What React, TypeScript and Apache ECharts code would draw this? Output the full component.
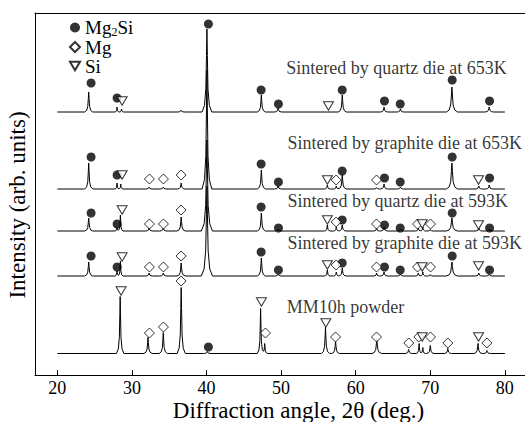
import React, { useEffect, useRef } from "react";
import * as echarts from "echarts";

// ---- Data (2θ in degrees, intensity in arbitrary units, stacked with offsets) ----
const xTicks = [20, 30, 40, 50, 60, 70, 80];
const scanStart = 20;
const scanEnd = 80;
const xTitle = "Diffraction angle, 2θ (deg.)";
const yTitle = "Intensity (arb. units)";

// baselines (arb. units) of each stacked pattern
const baseQuartz653 = 263;
const baseGraphite653 = 186;
const baseQuartz593 = 144;
const baseGraphite593 = 99;
const basePowder = 21.5;

// peaks: [2θ, height, half base width]
const peaksQuartz653 = [
  [24.2, 20, 0.55], [28.0, 5, 0.3], [28.6, 3, 0.3], [36.6, 2, 0.5], [40.05, 83, 0.65],
  [47.35, 17, 0.55], [49.6, 4, 0.5], [58.2, 17, 0.55], [63.8, 5, 0.5], [66.0, 3, 0.5],
  [72.9, 25, 0.75], [77.9, 5, 0.6],
];
const peaksGraphite653 = [
  [24.2, 26, 0.55], [28.0, 6, 0.3], [28.5, 5, 0.3], [32.3, 2, 0.5], [34.2, 2, 0.5],
  [36.6, 6, 0.5], [40.05, 119, 0.65], [47.35, 19, 0.55], [49.6, 3, 0.5], [56.2, 4, 0.4],
  [57.4, 3, 0.4], [58.2, 14, 0.55], [62.8, 2, 0.4], [63.8, 5, 0.5], [66.0, 2, 0.5],
  [72.9, 26, 0.75], [76.5, 3, 0.5], [77.9, 4, 0.5],
];
const peaksQuartz593 = [
  [24.2, 13, 0.55], [28.0, 4, 0.3], [28.45, 16, 0.35], [32.3, 3, 0.5], [34.2, 3, 0.5],
  [36.6, 14, 0.55], [40.05, 91, 0.75], [47.35, 18, 0.55], [49.6, 2, 0.5], [56.2, 6, 0.4],
  [57.4, 4, 0.4], [58.2, 6, 0.5], [62.8, 3, 0.4], [63.8, 4, 0.5], [66.0, 2, 0.5],
  [68.4, 3, 0.4], [69.0, 4, 0.4], [70.0, 2, 0.4], [72.9, 13, 0.75], [76.5, 3, 0.5],
  [77.9, 2, 0.5],
];
const peaksGraphite593 = [
  [24.2, 14, 0.55], [28.0, 5, 0.3], [28.45, 15, 0.35], [32.3, 3, 0.5], [34.2, 3, 0.5],
  [36.6, 13, 0.55], [40.05, 90, 0.75], [47.35, 18, 0.55], [49.6, 2, 0.5], [56.2, 6, 0.4],
  [57.4, 4, 0.4], [58.2, 8, 0.5], [62.8, 3, 0.4], [63.8, 4, 0.5], [66.0, 2, 0.5],
  [68.4, 3, 0.4], [69.0, 4, 0.4], [70.0, 2, 0.4], [72.9, 14, 0.75], [76.5, 3, 0.5],
  [77.9, 2, 0.5],
];
const peaksPowder = [
  [28.42, 57, 0.5], [32.15, 16, 0.55], [34.2, 21, 0.55], [36.6, 66, 0.55], [40.1, 2, 0.5],
  [47.25, 45, 0.45], [47.8, 10, 0.4], [55.95, 26, 0.55], [57.3, 12, 0.55], [62.83, 14, 0.65],
  [67.1, 4, 0.5], [68.5, 10, 0.4], [69.0, 6, 0.35], [70.0, 8, 0.5], [72.35, 5, 0.5],
  [76.4, 10, 0.55], [77.6, 3, 0.5],
];

// phase markers: [2θ, intensity]
const mg2siMarks = [
  [24.52, 292], [28.01, 277], [40.25, 351], [47.32, 285], [49.64, 271], [58.19, 285],
  [63.86, 274], [65.97, 271], [72.94, 295], [77.95, 274],
  [24.52, 218], [28.01, 200], [47.32, 211], [49.64, 193], [58.19, 204], [63.86, 197],
  [65.97, 193], [72.94, 218], [77.95, 197],
  [24.52, 162], [28.01, 151], [47.32, 168], [49.64, 147], [58.19, 155], [63.86, 150],
  [65.97, 147], [72.94, 162], [77.95, 147],
  [24.52, 119], [28.01, 108], [47.32, 123], [49.64, 105], [58.19, 112], [63.86, 108],
  [65.97, 105], [72.94, 119], [77.95, 105],
  [40.25, 28],
];
const mgMarks = [
  [32.34, 196], [34.22, 196], [36.59, 200], [57.38, 195], [62.79, 195],
  [32.34, 151], [34.22, 151], [36.59, 165], [57.38, 153], [62.79, 151], [68.29, 151], [70.03, 151],
  [32.34, 108], [34.22, 108], [36.59, 119], [57.38, 110], [62.79, 108], [68.29, 108], [70.03, 108],
  [32.34, 42], [34.22, 48], [36.59, 94], [47.9, 42], [57.3, 38], [62.79, 38], [67.12, 32],
  [68.46, 38], [70.03, 38], [72.35, 32], [77.59, 32],
];
const siMarks = [
  [28.68, 274], [56.35, 269],
  [28.68, 200], [56.2, 195], [76.47, 195],
  [28.68, 165], [56.2, 155], [68.92, 151], [76.47, 150],
  [28.68, 118], [56.2, 110], [68.92, 108], [76.47, 109],
  [28.54, 84], [47.36, 73], [56.0, 52], [68.92, 38], [76.47, 38],
];

const sampleLabels = [
  "Sintered by quartz die at 653K",
  "Sintered by graphite die at 653K",
  "Sintered by quartz die at 593K",
  "Sintered by graphite die at 593K",
  "MM10h powder",
];
const sampleLabelAnchors = [
  [50.7, 307], [50.85, 232], [50.85, 174.3], [50.85, 132], [50.75, 68.3],
];

// normalized peak outline (offset in half-base widths, fraction of height)
const PROFILE = [
  [-1, 0], [-0.5, 0.08], [-0.22, 0.28], [-0.09, 0.68], [0, 1],
  [0.09, 0.68], [0.22, 0.28], [0.5, 0.08], [1, 0],
];

function profileAt(t: number): number {
  if (t <= PROFILE[0][0] || t >= PROFILE[PROFILE.length - 1][0]) return 0;
  for (let i = 0; i < PROFILE.length - 1; i++) {
    const [x0, y0] = PROFILE[i];
    const [x1, y1] = PROFILE[i + 1];
    if (t >= x0 && t <= x1) return y0 + ((t - x0) / (x1 - x0)) * (y1 - y0);
  }
  return 0;
}

function buildPattern(base: number, peaks: number[][]): number[][] {
  const xs = new Set<number>([scanStart, scanEnd]);
  peaks.forEach(([p, , w]) => {
    PROFILE.forEach(([dx]) => {
      const x = +(p + dx * w).toFixed(4);
      if (x > scanStart && x < scanEnd) xs.add(x);
    });
  });
  const sorted = Array.from(xs).sort((a, b) => a - b);
  return sorted.map((x) => {
    let y = base;
    peaks.forEach(([p, h, w]) => {
      y += h * profileAt((x - p) / w);
    });
    return [x, y];
  });
}

const FONT = '"Liberation Serif", "Times New Roman", serif';
const TRI_DOWN = "path://M0,0 L10,0 L5,8.5 Z";

export default function App() {
  const ref = useRef<HTMLDivElement>(null);

  useEffect(() => {
    document.body.style.margin = "0";
    if (!ref.current) return;
    const chart = echarts.init(ref.current, null, { renderer: "svg" });

    const patterns = [
      [baseQuartz653, peaksQuartz653],
      [baseGraphite653, peaksGraphite653],
      [baseQuartz593, peaksQuartz593],
      [baseGraphite593, peaksGraphite593],
      [basePowder, peaksPowder],
    ] as [number, number[][]][];

    const lineSeries = patterns.map(([b, pk], i) => ({
      name: "pattern" + i,
      type: "line",
      data: buildPattern(b, pk),
      symbol: "none",
      lineStyle: { color: "#000", width: 1 },
      z: 2,
      silent: true,
    }));

    const option: any = {
      animation: false,
      backgroundColor: "#fff",
      textStyle: { fontFamily: FONT },
      grid: { left: 35, right: 0, top: 13, bottom: 47 },
      graphic: [
        {
          type: "text",
          x: 298.5,
          y: 410,
          style: {
            text: xTitle,
            fontFamily: FONT,
            fontSize: 23,
            fill: "#000",
            align: "center",
            verticalAlign: "middle",
          },
        },
        {
          type: "text",
          x: 17,
          y: 205,
          rotation: Math.PI / 2,
          style: {
            text: yTitle,
            fontFamily: FONT,
            fontSize: 23,
            fill: "#000",
            align: "center",
            verticalAlign: "middle",
          },
        },
      ],
      legend: {
        data: ["Mg2Si", "Mg", "Si"],
        orient: "vertical",
        left: 64,
        top: 13,
        itemWidth: 10,
        itemHeight: 10,
        itemGap: 0,
        formatter: (name: string) =>
          name === "Mg2Si" ? "{n|Mg}{s|2}{n|Si}" : "{n|" + name + "}",
        textStyle: {
          fontFamily: FONT,
          color: "#000",
          rich: {
            n: { fontFamily: FONT, fontSize: 19, color: "#000", lineHeight: 17.5 },
            s: { fontFamily: FONT, fontSize: 12, color: "#000", padding: [8, 0, 0, 0] },
          },
        },
      },
      xAxis: [
        {
          type: "value",
          min: 17,
          max: 82.7,
          position: "bottom",
          axisLine: { show: true, lineStyle: { color: "#000", width: 1 } },
          axisTick: { show: true, inside: true, length: 5, customValues: xTicks, lineStyle: { color: "#000" } },
          axisLabel: { customValues: xTicks, fontFamily: FONT, fontSize: 18, color: "#000", margin: 4 },
          splitLine: { show: false },
        },
        {
          type: "value",
          min: 17,
          max: 82.7,
          position: "top",
          axisLine: { show: true, onZero: false, lineStyle: { color: "#000", width: 1.2 } },
          axisTick: { show: false },
          axisLabel: { show: false },
          splitLine: { show: false },
        },
      ],
      yAxis: {
        type: "value",
        min: 0,
        max: 362,
        axisLine: { show: true, lineStyle: { color: "#000", width: 1 } },
        axisTick: { show: false },
        axisLabel: { show: false },
        splitLine: { show: false },
      },
      series: [
        ...lineSeries,
        {
          name: "Mg2Si",
          type: "scatter",
          data: mg2siMarks,
          symbol: "circle",
          symbolSize: 9,
          itemStyle: { color: "#000" },
          z: 3,
        },
        {
          name: "Mg",
          type: "scatter",
          data: mgMarks,
          symbol: "diamond",
          symbolSize: 10,
          itemStyle: { color: "#fff", borderColor: "#000", borderWidth: 1 },
          z: 3,
        },
        {
          name: "Si",
          type: "scatter",
          data: siMarks,
          symbol: TRI_DOWN,
          symbolSize: [10, 8.5],
          itemStyle: { color: "#fff", borderColor: "#000", borderWidth: 1 },
          z: 3,
        },
        {
          name: "sampleLabels",
          type: "scatter",
          symbolSize: 0,
          silent: true,
          data: sampleLabels.map((t, i) => ({ name: t, value: sampleLabelAnchors[i] })),
          label: {
            show: true,
            position: "right",
            distance: 0,
            formatter: (p: any) => p.name,
            fontFamily: FONT,
            fontSize: 18,
            color: "#000",
          },
          z: 4,
        },
      ],
    };

    chart.setOption(option);
    return () => chart.dispose();
  }, []);

  return <div ref={ref} style={{ width: 525, height: 422 }} />;
}
